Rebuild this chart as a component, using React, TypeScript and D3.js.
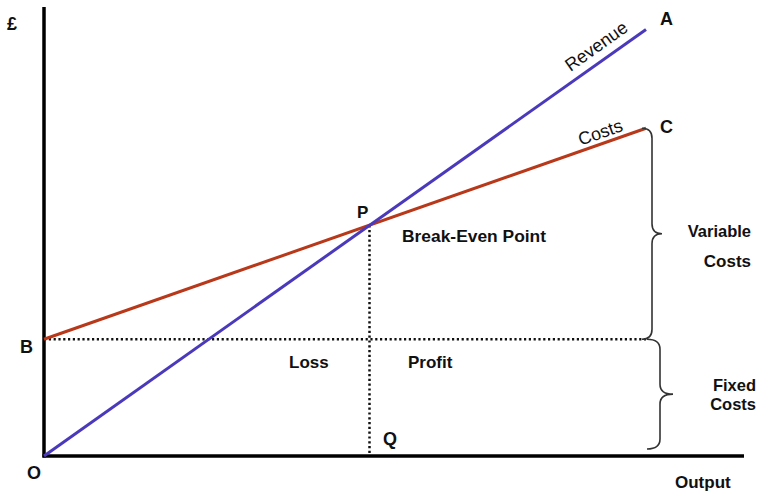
import React from "react";
import * as d3 from "d3";

const outputs = [0, 86];
const revenue = [0, 95];
const costs = [26, 73];
const fixedCost = 26;
const breakEvenOutput = 46.5;
const breakEvenValue = 51.4;

const W = 758, H = 494;
const x = d3.scaleLinear().domain([0, 100]).range([44, 744]);
const y = d3.scaleLinear().domain([0, 100]).range([456, 7]);

const line = d3.line<[number, number]>().x(d => x(d[0])).y(d => y(d[1]));
const revPts: [number, number][] = outputs.map((o, i) => [o, revenue[i]]);
const costPts: [number, number][] = outputs.map((o, i) => [o, costs[i]]);

function brace(bx: number, y1: number, y2: number, w: number, r: number) {
  const m = (y1 + y2) / 2;
  const xv = bx + w / 2;
  return `M${bx},${y1} Q${xv},${y1} ${xv},${y1 + r} L${xv},${m - r} Q${xv},${m} ${bx + w},${m} Q${xv},${m} ${xv},${m + r} L${xv},${y2 - r} Q${xv},${y2} ${bx},${y2}`;
}

const angle = (a: [number, number], b: [number, number]) =>
  (Math.atan2(y(b[1]) - y(a[1]), x(b[0]) - x(a[0])) * 180) / Math.PI;

export default function App() {
  const revAng = angle(revPts[0], revPts[1]);
  const costAng = angle(costPts[0], costPts[1]);
  const revAt = (o: number) => y((revenue[1] / outputs[1]) * o);
  const costAt = (o: number) => y(costs[0] + ((costs[1] - costs[0]) / outputs[1]) * o);
  const oRev = x.invert(605);
  const oCost = x.invert(604);
  const bold = { fontFamily: "Liberation Sans, Arial, sans-serif", fontWeight: 700, fill: "#111" } as const;
  const reg = { fontFamily: "Liberation Sans, Arial, sans-serif", fontWeight: 400, fill: "#111" } as const;
  const endX = x(outputs[1]);
  return (
    <svg width={W} height={H} style={{ position: "absolute", left: 0, top: 0 }}>
      <rect width={W} height={H} fill="#fff" />
      {/* dotted lines */}
      <line x1={x(0)} x2={endX} y1={y(fixedCost)} y2={y(fixedCost)} stroke="#111" strokeWidth={2.5} strokeDasharray="2.2,2.6" />
      <line x1={x(breakEvenOutput)} x2={x(breakEvenOutput)} y1={y(breakEvenValue)} y2={y(0)} stroke="#111" strokeWidth={2.5} strokeDasharray="2.2,2.6" />
      {/* axes */}
      <line x1={x(0)} x2={x(0)} y1={7} y2={y(0) + 1.5} stroke="#000" strokeWidth={3.5} />
      <line x1={x(0) - 1.5} x2={744} y1={y(0)} y2={y(0)} stroke="#000" strokeWidth={3.5} />
      {/* lines */}
      <path d={line(costPts) || ""} stroke="#b8381a" strokeWidth={3} fill="none" />
      <path d={line(revPts) || ""} stroke="#4a3abb" strokeWidth={3} fill="none" />
      {/* braces */}
      <path d={brace(endX - 4, y(costs[1]), y(fixedCost), 20, 10)} stroke="#333" strokeWidth={1.6} fill="none" />
      <path d={brace(647, y(fixedCost), y(0) - 7, 26, 10)} stroke="#333" strokeWidth={1.6} fill="none" />
      {/* line labels */}
      <text transform={`translate(${x(oRev)},${revAt(oRev)}) rotate(${revAng})`} y={-9} textAnchor="middle" fontSize={18} style={reg}>Revenue</text>
      <text transform={`translate(${x(oCost)},${costAt(oCost)}) rotate(${costAng})`} y={-5} textAnchor="middle" fontSize={18} style={reg}>Costs</text>
      {/* letters */}
      <text x={7} y={30} fontSize={18} style={bold}>£</text>
      <text x={660} y={25} fontSize={18} style={bold}>A</text>
      <text x={660} y={133} fontSize={18} style={bold}>C</text>
      <text x={357} y={218} fontSize={17} style={bold}>P</text>
      <text x={20} y={353} fontSize={18} style={bold}>B</text>
      <text x={27} y={479} fontSize={18} style={bold}>O</text>
      <text x={383} y={445} fontSize={18} style={bold}>Q</text>
      <text x={402} y={242} fontSize={17.4} style={bold}>Break-Even Point</text>
      <text x={289} y={368} fontSize={17} style={bold}>Loss</text>
      <text x={408} y={368} fontSize={17} style={bold}>Profit</text>
      <text x={751} y={237} fontSize={16.5} textAnchor="end" style={bold}>Variable</text>
      <text x={751} y={267} fontSize={17} textAnchor="end" style={bold}>Costs</text>
      <text x={756} y={391} fontSize={16.5} textAnchor="end" style={bold}>Fixed</text>
      <text x={756} y={410} fontSize={16.5} textAnchor="end" style={bold}>Costs</text>
      <text x={675} y={488} fontSize={17} style={bold}>Output</text>
    </svg>
  );
}
